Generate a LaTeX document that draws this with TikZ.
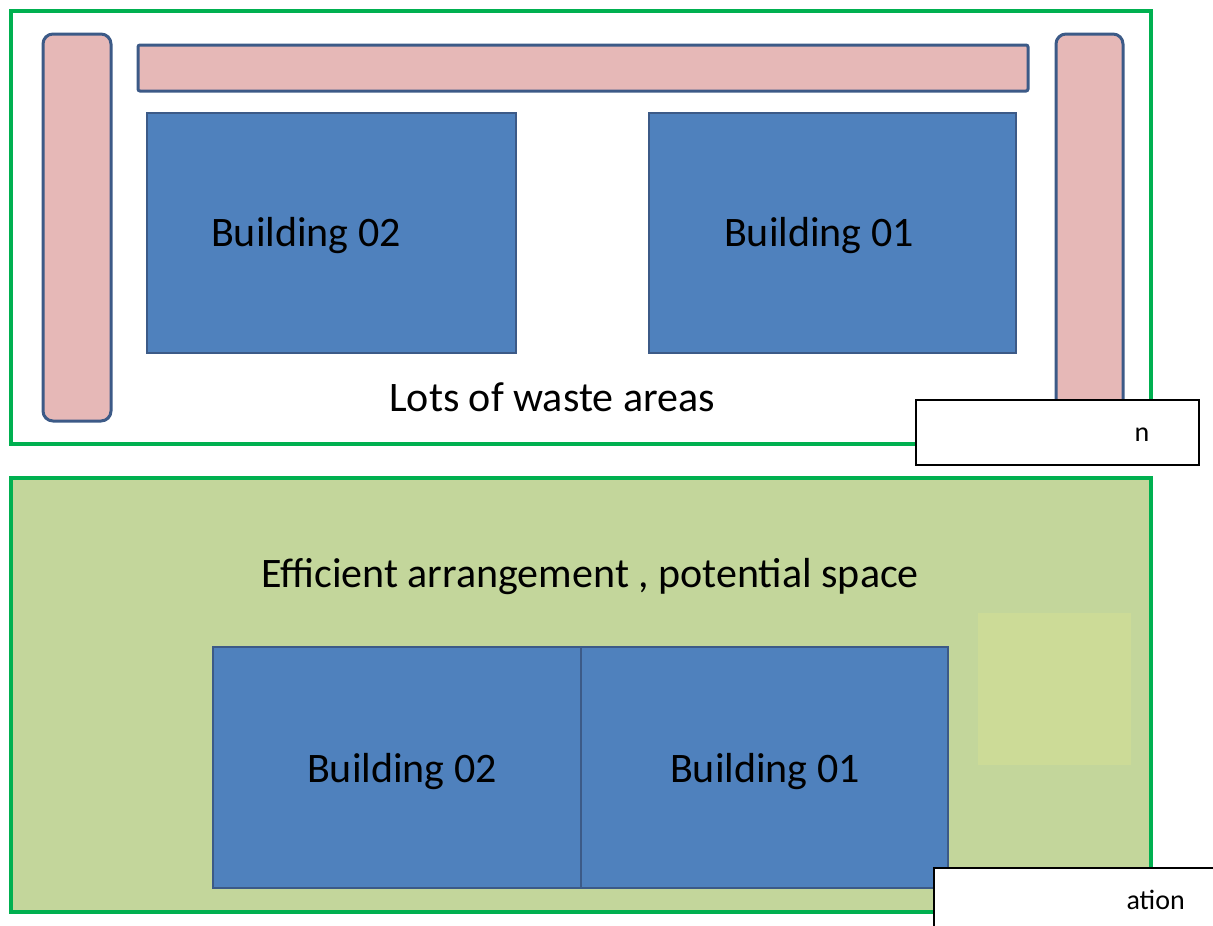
\documentclass[tikz,border=0pt]{standalone}
\usepackage{fontspec}
\setmainfont{Carlito}
\definecolor{frame}{RGB}{0,176,80}
\definecolor{pinkf}{RGB}{230,184,183}
\definecolor{edge}{RGB}{60,90,135}
\definecolor{bldg}{RGB}{79,129,189}
\definecolor{lawn}{RGB}{195,214,155}
\definecolor{patch}{RGB}{204,219,151}
\tikzset{
  site/.style={draw=frame,line width=4pt},
  strip/.style={draw=edge,fill=pinkf,line width=3pt},
  bldgbox/.style={draw=edge,fill=bldg,line width=2.5pt},
  lbl/.style={font=\fontsize{42}{50}\selectfont,text=black},
  capbox/.style={draw=black,fill=white,line width=2pt},
  captxt/.style={font=\fontsize{28}{32}\selectfont,text=black}
}
\begin{document}
\begin{tikzpicture}[x=1pt,y=-1pt]
\useasboundingbox (0,0) rectangle (1213,926);
% top site
\draw[site] (11,11) rectangle (1151,444);
\draw[strip,rounded corners=10pt] (43,34) rectangle (111,421);
\draw[strip,rounded corners=2pt] (138,45) rectangle (1028,91);
\draw[strip,rounded corners=10pt] (1056,34) rectangle (1123,421);
\draw[bldgbox] (147,113) rectangle (516,353);
\draw[bldgbox] (649,113) rectangle (1016,353);
\node[lbl] (b2t) at (306,236) {Building 02};
\node[lbl] (b1t) at (819,236) {Building 01};
\node[lbl] (waste) at (552,397) {Lots of waste areas};
\draw[capbox] (916,400) rectangle (1199,465);
\node[captxt,anchor=base west] (cap1) at (1131,441) {n};
% bottom site
\draw[site,fill=lawn] (11,478) rectangle (1151,912);
\node[lbl] (eff) at (590,577) {Efficient arrangement , potential space};
\fill[patch] (978,613) rectangle (1131,765);
\draw[bldgbox] (213,647) rectangle (581,888);
\draw[bldgbox] (581,647) rectangle (948,888);
\node[lbl] (b2b) at (402,772) {Building 02};
\node[lbl] (b1b) at (765,772) {Building 01};
\draw[capbox] (934,868) rectangle (1230,940);
\node[captxt,anchor=base west] (cap2) at (1123,909) {ation};
\end{tikzpicture}
\end{document}
